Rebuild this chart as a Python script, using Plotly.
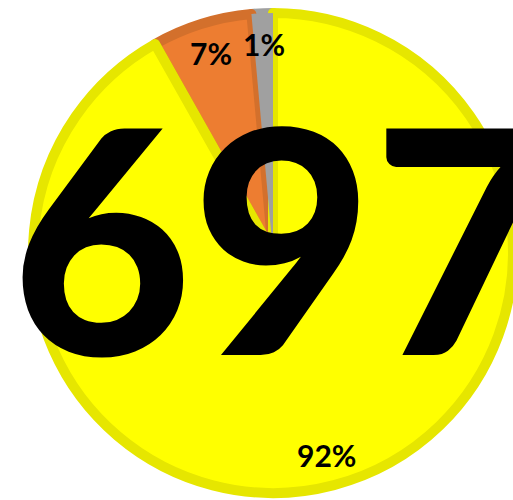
import math
import plotly.graph_objects as go

# Counts per category, listed counter-clockwise from 12 o'clock
categories = ["Other", "Partial", "Complete"]
counts = [10, 47, 640]
fill_colors = ["#a0a0a0", "#ed7d31", "#ffff00"]
edge_colors = ["#a0a0a0", "#d3702c", "#e6e600"]

total = sum(counts)

W, H = 513, 500
cx, cy = 273, 253          # pie centre in pixels (from top-left)
r_mid = 240                # radius of the slice edge (stroke centre)
edge_w = 10

# plotly places the first counter-clockwise slice clockwise of the rotation
# angle, so turn back by that slice to make it end at 12 o'clock
first_span = 360.0 * counts[0] / total
pie_domain = dict(x=[(cx - r_mid) / W, 1.0],
                  y=[(H - cy - r_mid) / H, (H - cy + r_mid) / H])

fig = go.Figure()
fig.add_trace(go.Pie(
    labels=categories,
    values=counts,
    sort=False,
    direction="counterclockwise",
    rotation=-first_span,
    marker=dict(colors=fill_colors, line=dict(color=edge_colors, width=edge_w)),
    textinfo="none",
    hoverinfo="label+value+percent",
    showlegend=False,
    domain=pie_domain,
))

# The thin "Other" wedge redrawn on top, without an edge, so the
# neighbouring edges do not eat into it
fig.add_trace(go.Pie(
    labels=categories,
    values=counts,
    sort=False,
    direction="counterclockwise",
    rotation=-first_span,
    marker=dict(colors=[fill_colors[0], "rgba(0,0,0,0)", "rgba(0,0,0,0)"],
                line=dict(width=0)),
    textinfo="none",
    hoverinfo="skip",
    showlegend=False,
    domain=pie_domain,
))

# Percentage labels placed near the outer edge along each slice's mid-angle
label_r = 209
start = 0.0
for c in counts:
    span = 360.0 * c / total
    mid = start + span / 2
    a = math.radians(mid)
    px = cx - label_r * math.sin(a)
    py = cy - label_r * math.cos(a)
    fig.add_annotation(
        x=px / W, y=1 - py / H, xref="paper", yref="paper",
        text=f"{round(100 * c / total)}%", showarrow=False,
        xanchor="center", yanchor="middle",
        font=dict(family="Lato", size=30, color="black", weight="bold"),
    )
    start += span

# Total shown in large type across the pie
fig.add_annotation(
    x=282 / W, y=1 - 234 / H, xref="paper", yref="paper",
    text=str(total), showarrow=False,
    xanchor="center", yanchor="middle",
    font=dict(family="Lato", size=312, color="black", weight=900),
)

fig.update_layout(
    width=W, height=H,
    margin=dict(l=0, r=0, t=0, b=0),
    paper_bgcolor="white",
    plot_bgcolor="white",
)

fig.write_html("out.html")
